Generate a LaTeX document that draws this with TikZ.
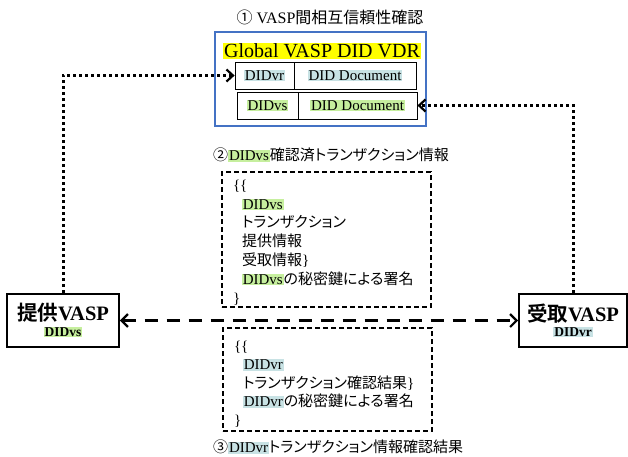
\documentclass[tikz,border=0pt]{standalone}
\usepackage{fontspec}
\setmainfont{Liberation Serif}
\newfontfamily\jp[RawFeature=+palt, BoldFont={Noto Sans CJK JP Bold}]{Noto Sans CJK JP}
\newfontfamily\jpfull{Noto Sans CJK JP}
\usetikzlibrary{arrows.meta}
\definecolor{hlgreen}{RGB}{198,239,158}
\definecolor{hlblue}{RGB}{200,226,228}
\definecolor{hlyellow}{RGB}{255,255,0}
\definecolor{vdrblue}{RGB}{68,114,196}
\newcommand\hlg[1]{{\setlength{\fboxsep}{0.8pt}\colorbox{hlgreen}{#1}}}
\newcommand\hlb[1]{{\setlength{\fboxsep}{0.8pt}\colorbox{hlblue}{#1}}}
\newcommand\hly[1]{{\setlength{\fboxsep}{0.8pt}\colorbox{hlyellow}{#1}}}

\begin{document}
\begin{tikzpicture}[x=1pt,y=-1pt,
  cell/.style={draw, line width=0.8pt, inner sep=0pt, minimum height=27pt,
    font=\fontsize{15}{18}\selectfont},
  vasp/.style={draw, line width=1.8pt, inner sep=0pt, minimum height=53pt, align=center},
  msgbox/.style={draw, line width=1.6pt, dash pattern=on 5pt off 3pt, align=left,
    inner xsep=11pt, inner ysep=0pt},
  dotlink/.style={line width=3pt, dash pattern=on 3pt off 3pt,
    -{Straight Barb[length=6.5pt,width=12pt,line width=2.2pt]}},
  dashlink/.style={line width=2.8pt, dash pattern=on 13pt off 9pt,
    {Straight Barb[length=6.5pt,width=13pt,line width=2.2pt]}-{Straight Barb[length=6.5pt,width=13pt,line width=2.2pt]}},
  heading/.style={inner sep=0pt, font=\fontsize{15}{18}\selectfont}
]
\useasboundingbox (0,0) rectangle (628,456);

% registry of VASP DIDs
\node[heading, font=\fontsize{16}{19}\selectfont] (t1) at (330,17) {{\jpfull ①} VASP{\jpfull 間相互信頼性確認}};
\node[draw=vdrblue, line width=1.6pt, minimum width=211pt, minimum height=94pt, inner sep=0pt] (vdr) at (320.5,79) {};
\node[inner sep=0pt, font=\fontsize{20}{22}\selectfont] (vdrname) at (322,51) {\hly{Global VASP DID VDR}};
\node[cell, minimum width=59pt] (c11) at (264.5,75.5) {\hlb{DIDvr}};
\node[cell, minimum width=122pt] (c12) at (355,75.5) {\hlb{DID Document}};
\node[cell, minimum width=61pt] (c21) at (267.5,105.5) {\hlg{DIDvs}};
\node[cell, minimum width=119pt] (c22) at (357.5,105.5) {\hlg{DID Document}};

% the two VASPs
\node[vasp, minimum width=112pt] (prov) at (63,320.5)
  {{\fontsize{20.5}{23}\selectfont\bfseries{\jp 提供}VASP}\\[3.5pt]{\fontsize{13.5}{15}\selectfont\bfseries\hlg{DIDvs}}};
\node[vasp, minimum width=108pt] (recv) at (573,320.5)
  {{\fontsize{20.5}{23}\selectfont\bfseries{\jp 受取}VASP}\\[3.5pt]{\fontsize{13.5}{15}\selectfont\bfseries\hlb{DIDvr}}};

% exchanged messages
\node[heading, anchor=west] (t2) at (213,155) {{\jpfull ②}\hlg{DIDvs}{\jp 確認済トランザクション情報}};
\node[msgbox, text width=187pt, minimum height=135pt, font=\fontsize{15}{18.8}\selectfont] (tx) at (326.5,239.5)
  {\rule{0pt}{16.5pt}\{\{\\
   \hspace*{9pt}\hlg{DIDvs}\\
   \hspace*{9pt}{\jp トランザクション}\\
   \hspace*{9pt}{\jp 提供情報}\\
   \hspace*{9pt}{\jp 受取情報}\}\\
   \hspace*{9pt}\hlg{DIDvs}{\jp の秘密鍵による署名}\\
   \}};
\node[msgbox, text width=187pt, minimum height=103pt, font=\fontsize{15}{18.5}\selectfont] (res) at (327.5,379.5)
  {\rule{0pt}{19.5pt}\{\{\\
   \hspace*{9pt}\hlb{DIDvr}\\
   \hspace*{9pt}{\jp トランザクション確認結果}\}\\
   \hspace*{9pt}\hlb{DIDvr}{\jp の秘密鍵による署名}\\
   \}};
\node[heading, anchor=west] (t3) at (213,447) {{\jpfull ③}\hlb{DIDvr}{\jp トランザクション情報確認結果}};

% connectors
\draw[dotlink] (prov.north) |- (c11.west);
\draw[dotlink] (recv.north) |- (c22.east);
\draw[dashlink] (prov.east) -- (recv.west);
\end{tikzpicture}
\end{document}
